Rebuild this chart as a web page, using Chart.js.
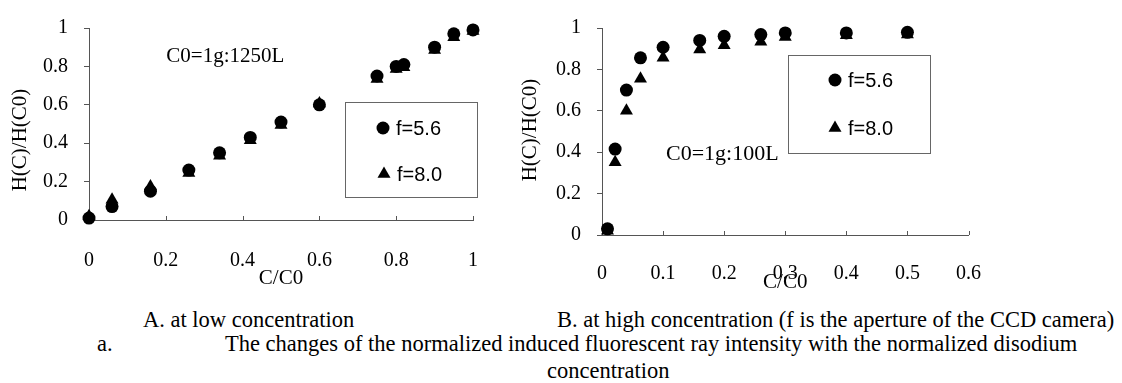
<!DOCTYPE html>
<html>
<head>
<meta charset="utf-8">
<script src="https://cdn.jsdelivr.net/npm/chart.js@4.4.1/dist/chart.umd.min.js"></script>
<style>
  html, body { margin: 0; padding: 0; background: #fff; }
  #wrap { position: relative; width: 1122px; height: 383px; overflow: hidden; background: #fff; }
  .cv { position: absolute; top: 0; }
  .cap { position: absolute; font-family: "Liberation Serif", "Times New Roman", serif; font-size: 22.5px; line-height: 22.5px; color: #000; white-space: nowrap; }
</style>
</head>
<body>
<div id="wrap">
  <div class="cv" style="left:0;width:500px;height:300px;"><canvas id="cA"></canvas></div>
  <div class="cv" style="left:500px;width:500px;height:300px;"><canvas id="cB"></canvas></div>
  <div class="cap" style="left:143px;top:309px;">A. at low concentration</div>
  <div class="cap" style="left:557px;top:309px;">B. at high concentration (f is the aperture of the CCD camera)</div>
  <div class="cap" style="left:97px;top:333px;">a.</div>
  <div class="cap" style="left:225px;top:333px;">The changes of the normalized induced fluorescent ray intensity with the normalized disodium</div>
  <div class="cap" style="left:547px;top:360px;">concentration</div>
</div>
<script>
// ---------- data ----------
const seriesNames = ["f=5.6", "f=8.0"];

// A. low concentration
const lowC = [0, 0.06, 0.16, 0.26, 0.34, 0.42, 0.5, 0.6, 0.75, 0.8, 0.82, 0.9, 0.95, 1.0];
const lowF56 = [0.01, 0.07, 0.15, 0.26, 0.35, 0.43, 0.51, 0.6, 0.75, 0.8, 0.81, 0.9, 0.97, 0.99];
const lowF80 = [0.02, 0.105, 0.175, 0.245, 0.335, 0.415, 0.495, 0.607, 0.735, 0.787, 0.795, 0.885, 0.952, 0.985];

// B. high concentration
const highC = [0.009, 0.0215, 0.04, 0.063, 0.1, 0.16, 0.2, 0.26, 0.3, 0.4, 0.5];
const highF56 = [0.03, 0.415, 0.70, 0.856, 0.907, 0.94, 0.96, 0.968, 0.976, 0.976, 0.979];
const highF80 = [0.02, 0.352, 0.60, 0.755, 0.856, 0.896, 0.917, 0.933, 0.957, 0.965, 0.968];

const lowXTicks = [0, 0.2, 0.4, 0.6, 0.8, 1];
const highXTicks = [0, 0.1, 0.2, 0.3, 0.4, 0.5, 0.6];
const yTicks = [0, 0.2, 0.4, 0.6, 0.8, 1];

const xTitle = "C/C0";
const yTitle = "H(C)/H(C0)";
const noteA = "C0=1g:1250L";
const noteB = "C0=1g:100L";

// ---------- helpers ----------
const SERIF = '"Liberation Serif", "Times New Roman", serif';
const SANS = '"Liberation Sans", Arial, sans-serif';
const AXIS = '#555';

function pts(xs, ys) { return xs.map((x, i) => ({ x: x, y: ys[i] })); }

function drawMarker(ctx, style, x, y) {
  ctx.beginPath();
  if (style === 'circle') {
    ctx.arc(x, y, 6.5, 0, Math.PI * 2);
  } else {
    const r = 7.5;
    ctx.moveTo(x, y - r);
    ctx.lineTo(x + r * Math.sin(2 * Math.PI / 3), y + r / 2);
    ctx.lineTo(x - r * Math.sin(2 * Math.PI / 3), y + r / 2);
    ctx.closePath();
  }
  ctx.fillStyle = '#000';
  ctx.fill();
}

const decor = {
  id: 'decor',
  afterDraw(chart, args, o) {
    const ctx = chart.ctx, xs = chart.scales.x, ys = chart.scales.y;
    ctx.save();
    // inward tick marks on the x axis
    ctx.strokeStyle = AXIS; ctx.lineWidth = 1;
    xs.ticks.forEach(t => {
      if (t.value === xs.min) return;
      const px = Math.round(xs.getPixelForValue(t.value)) + 0.5;
      ctx.beginPath(); ctx.moveTo(px, ys.bottom); ctx.lineTo(px, ys.bottom - 4); ctx.stroke();
    });
    // y title
    ctx.save();
    ctx.translate(o.yTitlePos[0], o.yTitlePos[1]);
    ctx.rotate(-Math.PI / 2);
    ctx.font = '21px ' + SERIF; ctx.fillStyle = '#000';
    ctx.textAlign = 'center'; ctx.textBaseline = 'middle';
    ctx.fillText(yTitle, 0, 0);
    ctx.restore();
    // annotation
    ctx.font = o.noteFont + ' ' + SERIF; ctx.fillStyle = '#000';
    ctx.textAlign = 'center'; ctx.textBaseline = 'middle';
    ctx.fillText(o.note, xs.getPixelForValue(o.noteAt[0]), ys.getPixelForValue(o.noteAt[1]));
    // legend box
    const b = o.box;
    ctx.strokeStyle = '#666'; ctx.lineWidth = 1;
    ctx.strokeRect(b[0] + 0.5, b[1] + 0.5, b[2], b[3]);
    ctx.font = '20px ' + SANS; ctx.textAlign = 'left';
    chart.data.datasets.forEach((ds, i) => {
      const it = o.items[i];
      drawMarker(ctx, ds.pointStyle, it[0], it[1]);
      ctx.fillStyle = '#000';
      ctx.fillText(ds.label, it[0] + 13, it[1] + 1);
    });
    ctx.restore();
  }
};

function makeChart(id, xsArr, s1, s2, xTickVals, cfg) {
  return new Chart(document.getElementById(id), {
    type: 'scatter',
    data: {
      datasets: [
        { label: seriesNames[0], data: pts(xsArr, s1), pointStyle: 'circle', pointRadius: 6.5, pointHoverRadius: 6.5,
          backgroundColor: '#000', borderColor: '#000', borderWidth: 0, clip: false },
        { label: seriesNames[1], data: pts(xsArr, s2), pointStyle: 'triangle', pointRadius: 7.5, pointHoverRadius: 7.5,
          backgroundColor: '#000', borderColor: '#000', borderWidth: 0, clip: false }
      ]
    },
    options: {
      responsive: true, maintainAspectRatio: false, animation: false,
      events: [],
      layout: { padding: { left: 0, top: cfg.top, right: cfg.right, bottom: 0 } },
      plugins: {
        legend: { display: false }, tooltip: { enabled: false },
        decor: cfg.decor
      },
      scales: {
        x: {
          type: 'linear', min: xTickVals[0], max: xTickVals[xTickVals.length - 1],
          afterBuildTicks: s => { s.ticks = xTickVals.map(v => ({ value: v })); },
          afterFit: s => { s.height = cfg.xHeight; },
          grid: { display: false },
          border: { display: true, color: AXIS, width: 1 },
          ticks: { color: '#000', font: { family: SERIF, size: 20 }, padding: cfg.xPad, maxRotation: 0, autoSkip: false,
                   callback: v => String(v) },
          title: { display: true, text: xTitle, color: '#000', font: { family: SERIF, size: 21 },
                   padding: { top: 0, bottom: cfg.xTitlePad } }
        },
        y: {
          type: 'linear', min: 0, max: 1,
          afterBuildTicks: s => { s.ticks = yTicks.map(v => ({ value: v })); },
          afterFit: s => { s.width = cfg.yWidth; },
          grid: { display: true, drawOnChartArea: false, drawTicks: true, tickLength: 5, color: AXIS },
          border: { display: true, color: AXIS, width: 1 },
          ticks: { color: '#000', font: { family: SERIF, size: 20 }, padding: 16, callback: v => String(v) }
        }
      }
    },
    plugins: [decor]
  });
}

makeChart('cA', lowC, lowF56, lowF80, lowXTicks, {
  top: 17, right: 27, xHeight: 80, yWidth: 89, xPad: 21, xTitlePad: 9,
  decor: { yTitlePos: [20.5, 140], note: noteA, noteFont: '21px', noteAt: [0.355, 0.85],
           box: [345, 102, 132, 95], items: [[383, 128], [384, 174]] }
});
makeChart('cB', highC, highF56, highF80, highXTicks, {
  top: 28, right: 27, xHeight: 65, yWidth: 102, xPad: 19, xTitlePad: 5,
  decor: { yTitlePos: [30, 130], note: noteB, noteFont: '22px', noteAt: [0.197, 0.39],
           box: [288, 55, 142, 98], items: [[335, 80], [335, 128]] }
});
</script>
</body>
</html>
